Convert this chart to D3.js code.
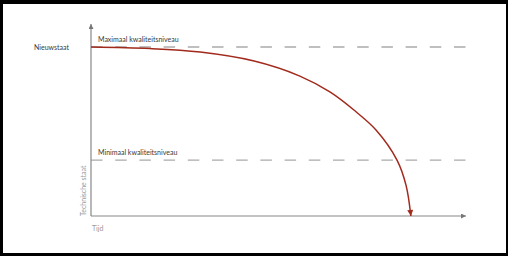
<!DOCTYPE html>
<html>
<head>
<meta charset="utf-8">
<title>Technische staat in de tijd</title>
<script src="https://cdn.jsdelivr.net/npm/d3@7"></script>
<style>
    body { margin: 0; background: #000; }
    text { font-family: Lato, "Open Sans", sans-serif; font-size: 7px; }
    .lbl { fill: #3a3a3a; }
    .ax-title { fill: #9a9a9a; }
</style>
</head>
<body>
<script>
    // time (0-100) vs technical state (0-100)
    var curveTime  = [0, 15.7, 29.1, 43.5, 55.7, 63.7, 70.1, 76.0, 81.6, 84.0, 85.3];
    var curveState = [100, 99.1, 97.0, 91.7, 82.8, 73.4, 62.7, 50.9, 33.1, 18.3, 0];
    var levelNames  = ['Maximaal kwaliteitsniveau', 'Minimaal kwaliteitsniveau'];
    var levelValues = [100, 33.1];
    var yLabel = 'Nieuwstaat';

    var width = 508, height = 256;

    var svg = d3.select('body').append('svg').attr('width', width).attr('height', height);

    // white card on black frame
    svg.append('rect').attr('x', 3).attr('y', 4).attr('width', 503).attr('height', 249).attr('fill', '#fff');

    var x = d3.scaleLinear().domain([0, 100]).range([91, 466]);
    var y = d3.scaleLinear().domain([0, 100]).range([216, 47]);

    var defs = svg.append('defs');
    defs.append('marker').attr('id', 'axArrow').attr('viewBox', '0 0 10 10')
        .attr('refX', 10).attr('refY', 5).attr('markerWidth', 6).attr('markerHeight', 5)
        .attr('markerUnits', 'userSpaceOnUse').attr('orient', 'auto')
        .append('path').attr('d', 'M0,0L10,5L0,10Z').attr('fill', '#777');
    defs.append('marker').attr('id', 'redArrow').attr('viewBox', '0 0 10 10')
        .attr('refX', 10).attr('refY', 5).attr('markerWidth', 7).attr('markerHeight', 6)
        .attr('markerUnits', 'userSpaceOnUse').attr('orient', 'auto')
        .append('path').attr('d', 'M0,0L10,5L0,10Z').attr('fill', '#a22a1c');

    // quality levels
    var lv = svg.selectAll('.level').data(levelNames.map((n, i) => ({name: n, v: levelValues[i]})))
        .enter().append('g').attr('class', 'level');
    lv.append('line')
        .attr('x1', x(0)).attr('x2', x(100))
        .attr('y1', d => y(d.v)).attr('y2', d => y(d.v))
        .attr('stroke', '#aaa').attr('stroke-width', 1.3)
        .attr('stroke-dasharray', '11.5,12.7');
    lv.append('text').attr('class', 'lbl')
        .attr('x', x(0) + 7).attr('y', d => y(d.v) - 5)
        .text(d => d.name);

    // axes
    svg.append('line').attr('x1', x(0)).attr('y1', y(0)).attr('x2', x(0)).attr('y2', 24)
        .attr('stroke', '#888').attr('stroke-width', 1.2).attr('marker-end', 'url(#axArrow)');
    svg.append('line').attr('x1', x(0)).attr('y1', y(0)).attr('x2', x(100)).attr('y2', y(0))
        .attr('stroke', '#888').attr('stroke-width', 1.2).attr('marker-end', 'url(#axArrow)');

    svg.append('text').attr('class', 'lbl').attr('x', 69).attr('y', y(100) + 3)
        .attr('text-anchor', 'end').text(yLabel);
    svg.append('text').attr('class', 'ax-title')
        .attr('transform', 'translate(86,' + y(0) + ') rotate(-90)')
        .text('Technische staat');
    svg.append('text').attr('class', 'ax-title').attr('x', x(0) + 1).attr('y', 231).text('Tijd');

    // decline curve
    var line = d3.line().x(d => x(d[0])).y(d => y(d[1])).curve(d3.curveCatmullRom.alpha(0.5));
    svg.append('path').datum(curveTime.map((t, i) => [t, curveState[i]]))
        .attr('d', line).attr('fill', 'none')
        .attr('stroke', '#a22a1c').attr('stroke-width', 1.5)
        .attr('marker-end', 'url(#redArrow)');
</script>
</body>
</html>
